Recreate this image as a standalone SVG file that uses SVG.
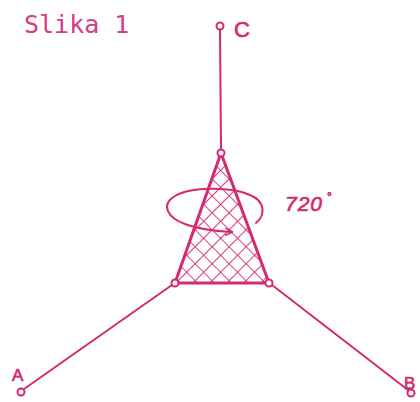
<svg xmlns="http://www.w3.org/2000/svg" width="420" height="402" viewBox="0 0 420 402">
<style>
.ln{stroke:#d42a70;stroke-width:2;fill:none;stroke-linecap:round}
.pt{stroke:#d42a70;stroke-width:2;fill:#fff}
.lb{fill:#d42a70;stroke:#d42a70;stroke-width:0.7;font-family:"Liberation Sans",sans-serif}
</style>
<defs>
<pattern id="hatch" patternUnits="userSpaceOnUse" width="12" height="12" patternTransform="rotate(45)">
<line x1="0" y1="0" x2="0" y2="12" stroke="#d42a70" stroke-width="1.8"/>
<line x1="0" y1="0" x2="12" y2="0" stroke="#d42a70" stroke-width="1.8"/>
</pattern>
<marker id="ah" viewBox="0 0 10 10" refX="9" refY="5" markerWidth="8" markerHeight="8" orient="auto" markerUnits="userSpaceOnUse">
<path d="M0,0 L10,5 L0,10" fill="none" stroke="#d42a70" stroke-width="2"/>
</marker>
</defs>
<rect width="420" height="402" fill="#fff"/>
<text x="24" y="33" style="fill:#d63c80;font-family:'DejaVu Sans Mono',monospace;font-size:25px">Slika 1</text>
<g id="connectors">
<line class="ln" x1="220" y1="29" x2="221" y2="149"/>
<line class="ln" x1="24" y1="389" x2="172" y2="285"/>
<line class="ln" x1="408" y1="390" x2="272" y2="285"/>
</g>
<g id="triangle">
<polygon points="221,153 175,283 269,283" fill="url(#hatch)" stroke="#d42a70" stroke-width="3" stroke-linejoin="round"/>
</g>
<g id="rotation">
<path class="ln" d="M256,223 C266,215 265,201 250,195 C230,186 190,187 175,196 C160,205 168,218 185,224 C198,229 215,231 232,232" marker-end="url(#ah)" stroke-width="2.3"/>
<text x="285" y="211" class="lb" style="font-size:21px;font-style:italic;letter-spacing:1px">720</text>
<text x="327" y="201" class="lb" style="font-size:12px">°</text>
</g>
<g id="C"><circle class="pt" cx="220" cy="26" r="3.5"/><text x="234" y="37" class="lb" style="font-size:22px">C</text></g>
<g id="A"><circle class="pt" cx="21" cy="392" r="3.5"/><text x="12" y="381" class="lb" style="font-size:17px">A</text></g>
<g id="B"><circle class="pt" cx="411" cy="393" r="3.5"/><text x="404" y="389" class="lb" style="font-size:17px">B</text></g>
<g id="vT"><circle class="pt" cx="221" cy="153" r="3.5"/></g>
<g id="vL"><circle class="pt" cx="175" cy="283" r="3.5"/></g>
<g id="vR"><circle class="pt" cx="269" cy="283" r="3.5"/></g>
</svg>
